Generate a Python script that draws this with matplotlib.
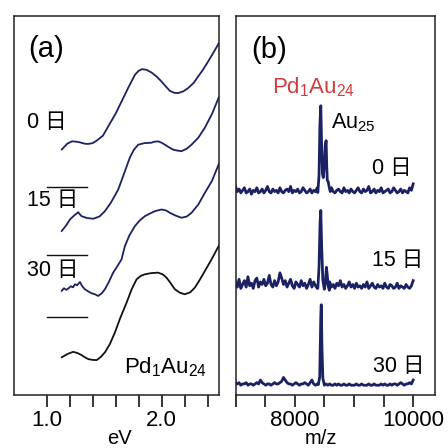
import numpy as np
import matplotlib
matplotlib.use("Agg")
import matplotlib.pyplot as plt

plt.rcParams['font.family'] = ['Liberation Sans', 'Noto Sans CJK JP', 'DejaVu Sans']
plt.rcParams['mathtext.fontset'] = 'custom'
plt.rcParams['mathtext.rm'] = 'Liberation Sans'

navy = '#1b2163'
red = '#d23c3c'

# ---- (a) absorption spectra, eV vs a.u. ----
ev_0 = [1.13, 1.18, 1.22, 1.26, 1.29, 1.33, 1.36, 1.40, 1.435, 1.49, 1.536, 1.60, 1.652, 1.71,
        1.768, 1.80, 1.831, 1.87, 1.913, 1.96, 2.00, 2.04, 2.072, 2.11, 2.144, 2.19, 2.231,
        2.28, 2.318, 2.36, 2.405, 2.45, 2.50]
abs_0 = [2.46, 2.52, 2.543, 2.54, 2.533, 2.52, 2.517, 2.525, 2.55, 2.60, 2.693, 2.82, 2.943, 3.08,
         3.21, 3.25, 3.267, 3.26, 3.233, 3.19, 3.143, 3.09, 3.05, 3.03, 3.027, 3.045, 3.077,
         3.13, 3.193, 3.26, 3.343, 3.43, 3.53]

ev_15 = [1.13, 1.17, 1.203, 1.24, 1.275, 1.29, 1.304, 1.35, 1.405, 1.46, 1.507, 1.56, 1.623,
         1.68, 1.724, 1.76, 1.797, 1.85, 1.913, 1.94, 1.970, 2.00, 2.029, 2.07, 2.101, 2.14,
         2.174, 2.22, 2.261, 2.32, 2.377, 2.44, 2.50]
abs_15 = [1.643, 1.70, 1.76, 1.80, 1.833, 1.81, 1.793, 1.775, 1.767, 1.79, 1.843, 1.93, 2.06,
          2.24, 2.38, 2.46, 2.51, 2.525, 2.53, 2.54, 2.543, 2.53, 2.51, 2.48, 2.46, 2.45,
          2.445, 2.47, 2.51, 2.58, 2.68, 2.82, 2.99]

ev_30 = [1.13, 1.15, 1.17, 1.188, 1.21, 1.23, 1.246, 1.265, 1.29, 1.31, 1.333, 1.36, 1.391,
         1.42, 1.449, 1.48, 1.507, 1.54, 1.579, 1.62, 1.652, 1.681, 1.72, 1.768, 1.81, 1.855,
         1.90, 1.942, 2.00, 2.04, 2.072, 2.12, 2.174, 2.22, 2.261, 2.32, 2.377, 2.44, 2.50]
abs_30 = [1.043, 1.07, 1.055, 1.067, 1.09, 1.08, 1.11, 1.10, 1.133, 1.09, 1.06, 1.04, 1.02,
          1.01, 0.993, 1.02, 1.06, 1.13, 1.227, 1.30, 1.36, 1.493, 1.60, 1.693, 1.75, 1.793,
          1.82, 1.843, 1.86, 1.85, 1.827, 1.80, 1.777, 1.79, 1.827, 1.91, 2.027, 2.15, 2.32]

ev_ref = [1.13, 1.18, 1.231, 1.27, 1.304, 1.33, 1.362, 1.40, 1.435, 1.47, 1.507, 1.55, 1.594,
          1.64, 1.696, 1.74, 1.783, 1.82, 1.855, 1.91, 1.970, 2.01, 2.043, 2.08, 2.116, 2.16,
          2.203, 2.25, 2.290, 2.33, 2.377, 2.44, 2.50]
abs_ref = [0.377, 0.41, 0.433, 0.42, 0.40, 0.38, 0.36, 0.352, 0.35, 0.38, 0.427, 0.51, 0.627,
           0.77, 0.927, 1.06, 1.16, 1.195, 1.21, 1.222, 1.227, 1.21, 1.177, 1.12, 1.06, 1.025,
           1.01, 1.03, 1.077, 1.15, 1.243, 1.37, 1.50]

base_levels = [2.09, 1.40, 0.78]
base_ev = [1.0, 1.35]
day_txt = ['0 日', '15 日', '30 日']

# ---- (b) mass spectra ----
mz_grid = np.arange(7000, 10001, 30)
noise_0 = [7, 3, 5, 2, 4, 6, 2, 3, 5, 1, 4, 3, 6, 2, 3, 5, 2, 4, 7, 3, 2, 5, 3, 4, 2,
           6, 3, 2, 4, 5, 3, 7, 2, 4, 3, 5, 2, 3, 6, 4, 2, 3, 5, 2, 4, 3, 6, 8, 2, 3,
           5, 4, 2, 3, 6, 3, 2, 4, 5, 3, 2, 6, 3, 4, 2, 5, 3, 2, 4, 6, 3, 2, 5, 3, 4,
           7, 2, 3, 5, 2, 4, 3, 6, 2, 3, 4, 5, 2, 3, 6, 4, 2, 3, 5, 2, 4, 3, 2, 6, 4, 9]
noise_15 = [8, 4, 10, 3, 6, 9, 4, 12, 5, 7, 3, 9, 11, 4, 8, 6, 10, 5, 7, 13, 6, 4, 9, 5, 8,
            15, 11, 6, 9, 4, 7, 10, 5, 3, 8, 6, 4, 9, 5, 7, 3, 6, 10, 4, 8, 5, 3, 7, 9, 4,
            6, 3, 5, 8, 4, 6, 3, 7, 5, 9, 4, 6, 3, 5, 8, 4, 6, 3, 7, 4, 5, 3, 6, 4, 8,
            3, 5, 7, 4, 3, 6, 4, 5, 3, 7, 4, 3, 6, 5, 3, 4, 7, 3, 5, 4, 3, 6, 4, 3, 5, 9]
noise_30 = [3, 2, 3, 1, 2, 2, 3, 1, 2, 2, 1, 2, 3, 2, 5, 3, 2, 1, 2, 2, 1, 2, 3, 2, 2,
            3, 4, 7, 5, 3, 2, 2, 1, 2, 3, 2, 1, 2, 2, 3, 2, 1, 3, 5, 2, 1, 2, 1, 2, 2,
            1, 2, 1, 2, 1, 1, 2, 1, 2, 1, 1, 2, 1, 1, 2, 1, 1, 1, 2, 1, 1, 2, 1, 1, 1,
            2, 1, 1, 2, 1, 1, 1, 2, 1, 2, 1, 1, 2, 1, 2, 2, 1, 2, 3, 2, 1, 2, 2, 3, 2, 5]

peak_mz_0 = [8390, 8410, 8425, 8440, 8452, 8468, 8482, 8500, 8515, 8530, 8540, 8550, 8565, 8580, 8600]
peak_h_0 = [3, 20, 70, 90, 55, 22, 18, 30, 50, 55, 30, 15, 14, 9, 4]
peak_mz_15 = [8390, 8410, 8428, 8440, 8455, 8475, 8500, 8518, 8535, 8548, 8565, 8585]
peak_h_15 = [4, 25, 70, 82, 45, 12, 3, 10, 25, 18, 6, 2]
peak_mz_30 = [8400, 8422, 8440, 8448, 8460, 8475, 8495]
peak_h_30 = [2, 10, 70, 82, 38, 8, 3]

spec_base = [2.00, 1.03, 0.085]
px = 0.01  # one pixel of intensity in a.u.
noise_px = 0.013


def spectrum(noise, pmz, ph, base):
    noise = np.asarray(noise, float)
    keep = (mz_grid < pmz[0]) | (mz_grid > pmz[-1])
    mz = np.concatenate([mz_grid[keep], pmz])
    y = np.concatenate([noise[keep] * noise_px, np.asarray(ph, float) * px])
    order = np.argsort(mz)
    return mz[order], base + y[order]


fig = plt.figure(figsize=(4.48, 4.48), dpi=100)
ax1 = fig.add_axes([14 / 448, 53 / 448, 205 / 448, 379 / 448])
ax2 = fig.add_axes([235.5 / 448, 53 / 448, 199 / 448, 379 / 448])

for ev, a, c in [(ev_0, abs_0, navy), (ev_15, abs_15, navy), (ev_30, abs_30, navy),
                 (ev_ref, abs_ref, '#111111')]:
    ax1.plot(ev, a, color=c, lw=1.3, solid_capstyle='round')
for b in base_levels:
    ax1.plot(base_ev, [b, b], color='#111111', lw=1.0)

ax1.set_xlim(0.716, 2.50)
ax1.set_ylim(0, 3.80)
ax1.set_yticks([])
ticks_a = [1.0, 1.2, 1.4, 1.6, 1.8, 2.0, 2.2, 2.4]
ax1.set_xticks(ticks_a)
ax1.set_xticklabels(['1.0', '', '', '', '', '2.0', '', ''])

ax1.text(14 / 205, 0.913, '(a)', transform=ax1.transAxes, fontsize=21, va='center')
for t, yy in zip(day_txt, [122, 200, 271]):
    ax1.text(13 / 205, (395 - yy) / 379, t, transform=ax1.transAxes, fontsize=15.5, va='center')
ax1.text((207 - 14) / 205, (395 - 367) / 379, r'Pd$_\mathrm{1}$Au$_\mathrm{24}$',
         transform=ax1.transAxes, fontsize=16, ha='right', va='center')

specs = [spectrum(noise_0, peak_mz_0, peak_h_0, spec_base[0]),
         spectrum(noise_15, peak_mz_15, peak_h_15, spec_base[1]),
         spectrum(noise_30, peak_mz_30, peak_h_30, spec_base[2])]
for mz, y in specs:
    ax2.plot(mz, y, color=navy, lw=2.0)

ax2.set_xlim(7000, 10360)
ax2.set_ylim(0, 3.80)
ax2.set_yticks([])
ticks_b = [7000, 7500, 8000, 8500, 9000, 9500, 10000]
ax2.set_xticks(ticks_b)
ax2.set_xticklabels(['', '', '8000', '', '', '', '10000'])

ax2.text((251.7 - 235.5) / 199, 0.91, '(b)', transform=ax2.transAxes, fontsize=21, va='center')
ax2.text((272 - 235.5) / 199, (395 - 87) / 379, r'Pd$_\mathrm{1}$Au$_\mathrm{24}$',
         transform=ax2.transAxes, fontsize=16, color=red, va='center')
ax2.text((331 - 235.5) / 199, (395 - 123) / 379, r'Au$_\mathrm{25}$',
         transform=ax2.transAxes, fontsize=15.5, va='center')
for t, xx, yy in zip(day_txt, [412, 423, 424], [168, 261, 366]):
    ax2.text((xx - 235.5) / 199, (395 - yy) / 379, t, transform=ax2.transAxes,
             fontsize=15.5, ha='right', va='center')

for ax in (ax1, ax2):
    for s in ax.spines.values():
        s.set_linewidth(1.1)
        s.set_color('#222222')
    ax.tick_params(axis='x', direction='out', length=8.5, width=1.1, pad=2.5,
                   labelsize=16, top=False)

fig.text(119.5 / 448, 1 - 438 / 448, 'eV', fontsize=14.5, ha='center', va='center')
fig.text(321 / 448, 1 - 438 / 448, 'm/z', fontsize=14.5, ha='center', va='center')

fig.savefig('out.png', dpi=100)
